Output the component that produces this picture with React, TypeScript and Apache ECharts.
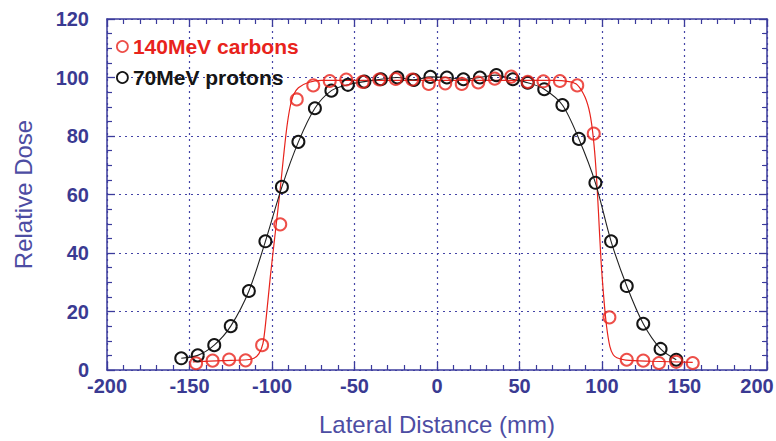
import React, { useEffect, useRef } from "react";
import * as echarts from "echarts";

// Measured points: 140 MeV carbons
const carbonX = [-146, -136, -126, -116, -106, -95, -85, -75, -65, -55, -45, -35, -25, -15, -5, 5, 15, 25, 35, 45, 55, 64.5, 74.5, 85, 95, 104.5, 115, 125, 134.5, 145, 155];
const carbonY = [2.3, 3.2, 3.6, 3.3, 8.5, 49.8, 92.5, 97.3, 98.8, 99.3, 98.5, 99.3, 99.5, 99.3, 97.8, 98, 97.8, 98.3, 99.6, 100.3, 98.5, 98.7, 98.8, 97.3, 80.8, 18, 3.5, 3.2, 2.4, 2.8, 2.4];

// Measured points: 70 MeV protons
const protonX = [-155, -145, -135, -125, -114, -104, -94, -84, -74, -64, -54, -44, -34, -24, -14, -4, 6, 16, 26, 36, 46, 55, 65, 76, 86, 96, 105.5, 115, 125, 135.5, 145];
const protonY = [4, 5, 8.5, 15, 27, 44, 62.6, 78, 89.5, 95.5, 97.5, 98.6, 99.4, 100, 99.2, 100.2, 100, 99.4, 100, 100.8, 99.4, 98.2, 96, 90.6, 79, 64, 44, 28.7, 15.8, 7.2, 3.5];

// Fitted curve for carbons
const carbonFitX = [-148, -130, -115, -111, -108, -105.5, -103.5, -101, -98, -95, -93, -91, -89, -87, -84, -78, -70, -40, 0, 40, 70, 80, 85, 89.7, 92.7, 94.7, 96.4, 97.8, 99.4, 101.2, 102.8, 104.8, 106.8, 109, 114.5, 130, 155];
const carbonFitY = [2.8, 3.2, 3.5, 4, 5.5, 9, 18, 32, 47, 62, 73, 83, 90, 94, 96.5, 98.3, 99, 99, 99, 99, 99, 98.6, 97.5, 93.3, 87.6, 79.6, 68.3, 54.6, 37.5, 23.9, 14.8, 8, 5.2, 4.2, 3.4, 3, 2.6];

// Axis ticks
const xTicks = { min: -200, max: 200, interval: 50 };
const yTicks = { min: 0, max: 120, interval: 20 };

const seriesNames = ["140MeV carbons", "70MeV protons"];

const RED = "#e8231c";
const BLACK = "#151515";
const AXIS = "#3b3b9c";
const LABEL = "#3a3a92";

export default function App() {
  const ref = useRef<HTMLDivElement>(null);
  useEffect(() => {
    if (!ref.current) return;
    const chart = echarts.init(ref.current, undefined, { renderer: "svg" });
    const zip = (xs: number[], ys: number[]) => xs.map((x, i) => [x, ys[i]]);
    const axisBase = {
      type: "value" as const,
      axisLine: { show: true, onZero: false, lineStyle: { color: AXIS, width: 1.5 } },
      axisTick: { show: true, inside: true, length: 8, lineStyle: { color: AXIS, width: 1.3 } },
      minorTick: { show: true, length: 5, lineStyle: { color: AXIS, width: 1.2 } },
    };
    const labelStyle = {
      color: LABEL,
      fontFamily: "Liberation Sans, Arial, sans-serif",
      fontWeight: "bold" as const,
      fontSize: 20,
    };
    const split = { show: true, lineStyle: { color: "#4444a6", type: [2, 4] as any, width: 1.2 } };
    chart.setOption({
      animation: false,
      backgroundColor: "#ffffff",
      grid: { left: 107, right: 9, top: 19, bottom: 71, containLabel: false, outerBoundsMode: "none" },
      legend: {
        orient: "vertical",
        left: 111,
        top: 31,
        itemGap: 10,
        itemWidth: 11,
        itemHeight: 11,
        textStyle: { fontFamily: "Liberation Sans, Arial, sans-serif", fontWeight: "bold", fontSize: 21 },
        data: [
          { name: seriesNames[0], icon: "circle", itemStyle: { color: "#fff", borderColor: RED, borderWidth: 1.8 }, textStyle: { color: RED } },
          { name: seriesNames[1], icon: "circle", itemStyle: { color: "#fff", borderColor: BLACK, borderWidth: 1.8 }, textStyle: { color: BLACK } },
        ],
      },
      xAxis: [
        {
          ...axisBase,
          position: "bottom",
          min: xTicks.min,
          max: xTicks.max,
          interval: xTicks.interval,
          minorTick: { ...axisBase.minorTick, splitNumber: 5 },
          splitLine: split,
          axisLabel: {
            ...labelStyle,
            margin: 6,
            formatter: (v: number) => (v === xTicks.max ? `{edge|${v}}` : `${v}`),
            rich: { edge: { ...labelStyle, padding: [0, 20, 0, 0] } },
          },
          name: "Lateral Distance (mm)",
          nameLocation: "middle",
          nameGap: 42,
          nameTextStyle: { color: "#4d4da3", fontSize: 24, fontFamily: "Liberation Sans, Arial, sans-serif" },
        },
        {
          ...axisBase,
          position: "top",
          min: xTicks.min,
          max: xTicks.max,
          interval: xTicks.interval,
          minorTick: { ...axisBase.minorTick, splitNumber: 5 },
          splitLine: { show: false },
          axisLabel: { show: false },
        },
      ],
      yAxis: [
        {
          ...axisBase,
          position: "left",
          min: yTicks.min,
          max: yTicks.max,
          interval: yTicks.interval,
          minorTick: { ...axisBase.minorTick, splitNumber: 4 },
          splitLine: split,
          axisLabel: { ...labelStyle, margin: 18 },
          name: "Relative Dose",
          nameLocation: "middle",
          nameGap: 72,
          nameTextStyle: { color: "#4d4da3", fontSize: 24, fontFamily: "Liberation Sans, Arial, sans-serif" },
        },
        {
          ...axisBase,
          position: "right",
          min: yTicks.min,
          max: yTicks.max,
          interval: yTicks.interval,
          minorTick: { ...axisBase.minorTick, splitNumber: 4 },
          splitLine: { show: false },
          axisLabel: { show: false },
        },
      ],
      series: [
        {
          name: "carbon fit",
          type: "line",
          data: zip(carbonFitX, carbonFitY),
          smooth: 0.3,
          showSymbol: false,
          symbol: "none",
          lineStyle: { color: RED, width: 1.2 },
          z: 2,
        },
        {
          name: seriesNames[1],
          type: "line",
          data: zip(protonX, protonY),
          smooth: 0.3,
          symbol: "circle",
          symbolSize: 12,
          showAllSymbol: true,
          itemStyle: { color: "rgba(255,255,255,0)", borderColor: BLACK, borderWidth: 2 },
          lineStyle: { color: "#222", width: 1.1 },
          z: 3,
        },
        {
          name: seriesNames[0],
          type: "scatter",
          data: zip(carbonX, carbonY),
          symbol: "circle",
          symbolSize: 12,
          itemStyle: { color: "rgba(255,255,255,0)", borderColor: RED, borderWidth: 2 },
          z: 4,
        },
      ],
    });
    return () => chart.dispose();
  }, []);
  return <div ref={ref} style={{ width: 776, height: 441, position: "absolute", left: 0, top: 0 }} />;
}
